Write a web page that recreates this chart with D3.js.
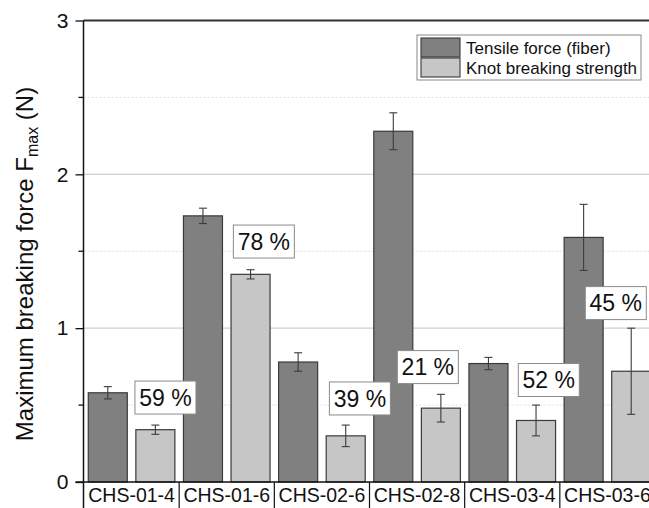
<!DOCTYPE html>
<html>
<head>
<meta charset="utf-8">
<script src="https://cdn.jsdelivr.net/npm/d3@7/dist/d3.min.js"></script>
<style>
  html, body { margin: 0; padding: 0; background: #fff; }
  svg { display: block; font-family: Arial, "Liberation Sans", Helvetica, sans-serif; }
</style>
</head>
<body>
<svg id="chart" width="649" height="508"></svg>
<script>
// Samples and measured breaking forces (N)
const samples = ["CHS-01-4", "CHS-01-6", "CHS-02-6", "CHS-02-8", "CHS-03-4", "CHS-03-6"];
const seriesNames = ["Tensile force (fiber)", "Knot breaking strength"];
const tensile = [0.58, 1.73, 0.78, 2.28, 0.77, 1.59];
const tensileErr = [0.04, 0.05, 0.06, 0.12, 0.04, 0.215];
const knot = [0.34, 1.35, 0.30, 0.48, 0.40, 0.72];
const knotErr = [0.03, 0.03, 0.07, 0.09, 0.10, 0.28];
// Knot strength relative to fiber tensile force (%)
const retention = [59, 78, 39, 21, 52, 45];
const yTicks = [0, 1, 2, 3];
const yMinorTicks = [0.5, 1.5, 2.5];

// Where each percentage box sits: value level and horizontal place inside the group
const boxAnchor = [
  { y: 0.549, fx: 0.856 },
  { y: 1.563, fx: 0.890 },
  { y: 0.543, fx: 0.899 },
  { y: 0.747, fx: 0.613 },
  { y: 0.663, fx: 0.884 },
  { y: 1.163, fx: 0.588 }
];

const fills = ["#808080", "#c6c6c6"];
const svg = d3.select("#chart");

const plot = { left: 83.5, right: 655, top: 20.5, bottom: 482 };

const x0 = d3.scaleBand().domain(samples).range([plot.left + 0.5, plot.right]).paddingInner(0).paddingOuter(0);
const x1 = d3.scaleBand().domain(seriesNames).range([0, x0.bandwidth()]).paddingInner(0.18).paddingOuter(0.09);
const y = d3.scaleLinear().domain([0, 3]).range([plot.bottom, plot.top]);

// Grid lines
svg.append("g").selectAll("line").data([1, 2]).join("line")
  .attr("x1", plot.left).attr("x2", 649)
  .attr("y1", d => y(d)).attr("y2", d => y(d))
  .attr("stroke", "#cfcfcf").attr("stroke-width", 1.2);
svg.append("g").selectAll("line").data(yMinorTicks).join("line")
  .attr("x1", plot.left).attr("x2", 649)
  .attr("y1", d => y(d)).attr("y2", d => y(d))
  .attr("stroke", "#dedede").attr("stroke-width", 1).attr("stroke-dasharray", "2,2");

// Top frame line
svg.append("line")
  .attr("x1", plot.left).attr("x2", 649)
  .attr("y1", plot.top).attr("y2", plot.top)
  .attr("stroke", "#333").attr("stroke-width", 2);

// Bars
const rows = samples.map((s, i) => ({
  sample: s,
  vals: [
    { key: seriesNames[0], v: tensile[i], e: tensileErr[i], c: fills[0] },
    { key: seriesNames[1], v: knot[i], e: knotErr[i], c: fills[1] }
  ]
}));

const groups = svg.append("g").selectAll("g").data(rows).join("g")
  .attr("transform", d => `translate(${x0(d.sample)},0)`);

groups.selectAll("rect").data(d => d.vals).join("rect")
  .attr("x", d => x1(d.key))
  .attr("y", d => y(d.v))
  .attr("width", x1.bandwidth())
  .attr("height", d => y(0) - y(d.v))
  .attr("fill", d => d.c)
  .attr("stroke", "#3a3a3a")
  .attr("stroke-width", 1.2);

// Error bars
const cap = 4;
const eb = groups.selectAll("g.err").data(d => d.vals).join("g").attr("class", "err")
  .attr("stroke", "#3c3c3c").attr("stroke-width", 1.1);
eb.append("line")
  .attr("x1", d => x1(d.key) + x1.bandwidth() / 2).attr("x2", d => x1(d.key) + x1.bandwidth() / 2)
  .attr("y1", d => y(d.v + d.e)).attr("y2", d => y(d.v - d.e));
eb.append("line")
  .attr("x1", d => x1(d.key) + x1.bandwidth() / 2 - cap).attr("x2", d => x1(d.key) + x1.bandwidth() / 2 + cap)
  .attr("y1", d => y(d.v + d.e)).attr("y2", d => y(d.v + d.e));
eb.append("line")
  .attr("x1", d => x1(d.key) + x1.bandwidth() / 2 - cap).attr("x2", d => x1(d.key) + x1.bandwidth() / 2 + cap)
  .attr("y1", d => y(d.v - d.e)).attr("y2", d => y(d.v - d.e));

// Percentage boxes
const boxW = 61, boxH = 33;
const lbl = svg.append("g").selectAll("g").data(samples).join("g")
  .attr("transform", (s, i) => `translate(${x0(s) + boxAnchor[i].fx * x0.bandwidth()},${y(boxAnchor[i].y)})`);
lbl.append("rect")
  .attr("x", -boxW / 2).attr("y", -boxH / 2)
  .attr("width", boxW).attr("height", boxH)
  .attr("fill", "#fff").attr("stroke", "#8a8a8a").attr("stroke-width", 1);
lbl.append("text")
  .attr("text-anchor", "middle").attr("dy", "0.36em")
  .attr("font-size", 23).attr("fill", "#111")
  .text((s, i) => `${retention[i]} %`);

// Y axis
const yAxis = d3.axisLeft(y).tickValues(yTicks).tickFormat(d3.format("d")).tickSize(8).tickPadding(7);
const gy = svg.append("g").attr("transform", `translate(${plot.left},0)`).call(yAxis);
gy.select(".domain").remove();
gy.selectAll(".tick line").attr("stroke", "#111").attr("stroke-width", 1.3);
gy.selectAll(".tick text").attr("font-size", 21).attr("fill", "#111").attr("font-family", "Arial, 'Liberation Sans', sans-serif");
svg.append("g").selectAll("line").data(yMinorTicks).join("line")
  .attr("x1", plot.left - 5).attr("x2", plot.left)
  .attr("y1", d => y(d)).attr("y2", d => y(d))
  .attr("stroke", "#111").attr("stroke-width", 1.3);
svg.append("line")
  .attr("x1", plot.left).attr("x2", plot.left)
  .attr("y1", plot.top).attr("y2", 508)
  .attr("stroke", "#111").attr("stroke-width", 1.5);

// X axis with category separators
svg.append("line")
  .attr("x1", plot.left - 8).attr("x2", 649)
  .attr("y1", plot.bottom).attr("y2", plot.bottom)
  .attr("stroke", "#111").attr("stroke-width", 1.5);
svg.append("g").selectAll("line").data(samples.slice(1)).join("line")
  .attr("x1", d => x0(d)).attr("x2", d => x0(d))
  .attr("y1", plot.bottom).attr("y2", 508)
  .attr("stroke", "#111").attr("stroke-width", 1.2);
svg.append("g").selectAll("text").data(samples).join("text")
  .attr("x", d => x0(d) + x0.bandwidth() / 2)
  .attr("y", 502)
  .attr("text-anchor", "middle")
  .attr("font-size", 19.5).attr("fill", "#111")
  .text(d => d);

// Y axis title
const title = svg.append("text")
  .attr("transform", "translate(33,264) rotate(-90)")
  .attr("text-anchor", "middle")
  .attr("font-size", 24).attr("fill", "#111");
title.append("tspan").text("Maximum breaking force F");
title.append("tspan").attr("font-size", 16).attr("dy", 5).text("max");
title.append("tspan").attr("dy", -5).text(" (N)");

// Legend
const legend = svg.append("g").attr("transform", "translate(417,35)");
legend.append("rect").attr("width", 224).attr("height", 45)
  .attr("fill", "#fff").attr("stroke", "#888").attr("stroke-width", 1);
const li = legend.selectAll("g").data(seriesNames).join("g")
  .attr("transform", (d, i) => `translate(4,${3 + i * 20})`);
li.append("rect").attr("width", 39).attr("height", 19)
  .attr("fill", (d, i) => fills[i]).attr("stroke", "#3a3a3a").attr("stroke-width", 1.1);
li.append("text").attr("x", 45).attr("y", 10).attr("dy", "0.36em")
  .attr("font-size", 17).attr("fill", "#111")
  .text(d => d);
</script>
</body>
</html>
